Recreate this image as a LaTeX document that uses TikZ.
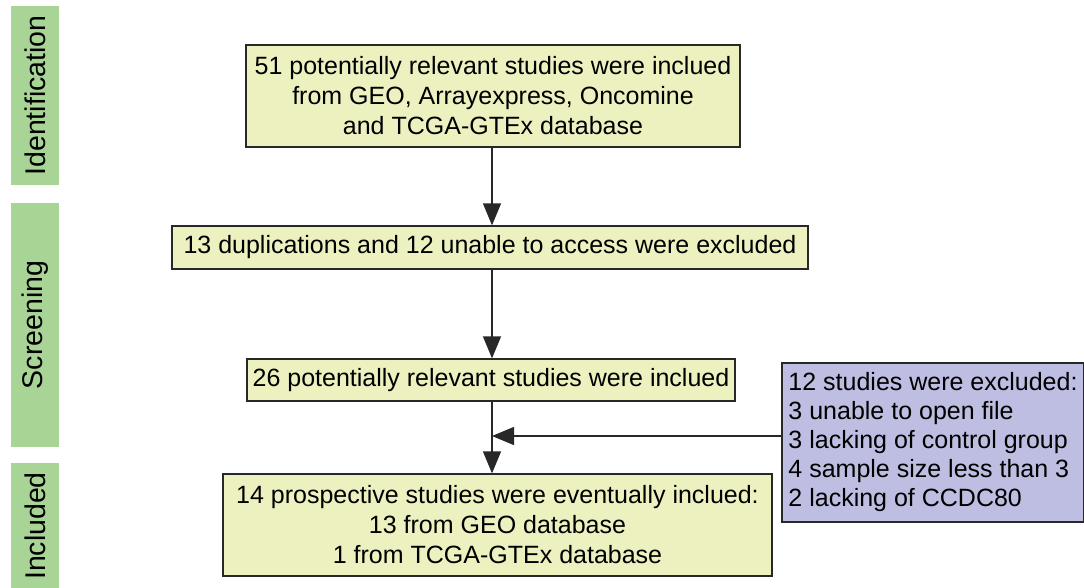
\documentclass[tikz,border=0pt]{standalone}
\usepackage{fontspec}
\setmainfont{Liberation Sans}
\usetikzlibrary{arrows.meta}
\definecolor{boxyellow}{RGB}{237,241,192}
\definecolor{boxpurple}{RGB}{190,190,226}
\definecolor{bargreen}{RGB}{168,212,150}
\definecolor{edge}{RGB}{40,40,40}
\tikzset{
  ybox/.style={draw=edge, line width=1.3pt, fill=boxyellow, align=center, inner sep=0pt,
    font=\fontsize{25}{30}\selectfont},
  pbox/.style={draw=edge, line width=1.3pt, fill=boxpurple, align=left, inner sep=0pt,
    font=\fontsize{25}{29}\selectfont},
  bar/.style={fill=bargreen, draw=none, inner sep=0pt, minimum width=48pt},
  barlabel/.style={rotate=90, font=\fontsize{28.5}{30}\selectfont},
  flow/.style={draw=edge, line width=1.3pt, -{Triangle[length=22pt, width=18pt]}}
}
\begin{document}
\begin{tikzpicture}[x=1pt, y=-1pt]
\useasboundingbox (0,0) rectangle (1084,587);
% side bars
\node[bar, minimum height=179pt] (idbar) at (35,95.5) {};
\node[barlabel] (idlab) at (idbar.center) {Identification};
\node[bar, minimum height=244pt] (scbar) at (35,325) {};
\node[barlabel] (sclab) at (scbar.center) {Screening};
\node[bar, minimum height=127pt] (inbar) at (35,526.5) {};
\node[barlabel] (inlab) at (35,526) {Included};
% boxes
\node[ybox, minimum width=494pt, minimum height=102pt] (b1) at (493,96)
  {51 potentially relevant studies were inclued\\from GEO, Arrayexpress, Oncomine\\and TCGA-GTEx database};
\node[ybox, minimum width=636pt, minimum height=43pt] (b2) at (490,247.5)
  {13 duplications and 12 unable to access were excluded};
\node[ybox, minimum width=488pt, minimum height=42pt] (b3) at (491,380)
  {26 potentially relevant studies were inclued};
\node[ybox, minimum width=549pt, minimum height=102pt] (b4) at (497.5,525)
  {14 prospective studies were eventually inclued:\\13 from GEO database\\1 from TCGA-GTEx database};
\node[pbox, minimum width=302pt, minimum height=159pt] (b5) at (933,442.5)
  {12 studies were excluded:\\3 unable to open file\\3 lacking of control group\\4 sample size less than 3\\2 lacking of CCDC80};
% connectors
\coordinate (ax) at (492,0);
\coordinate (join) at (492,436);
\draw[flow] (b1.south -| ax) -- (b2.north -| ax);
\draw[flow] (b2.south -| ax) -- (b3.north -| ax);
\draw[flow] (b3.south -| ax) -- (b4.north -| ax);
\draw[flow] (b5.west |- join) -- (join);
\end{tikzpicture}
\end{document}
